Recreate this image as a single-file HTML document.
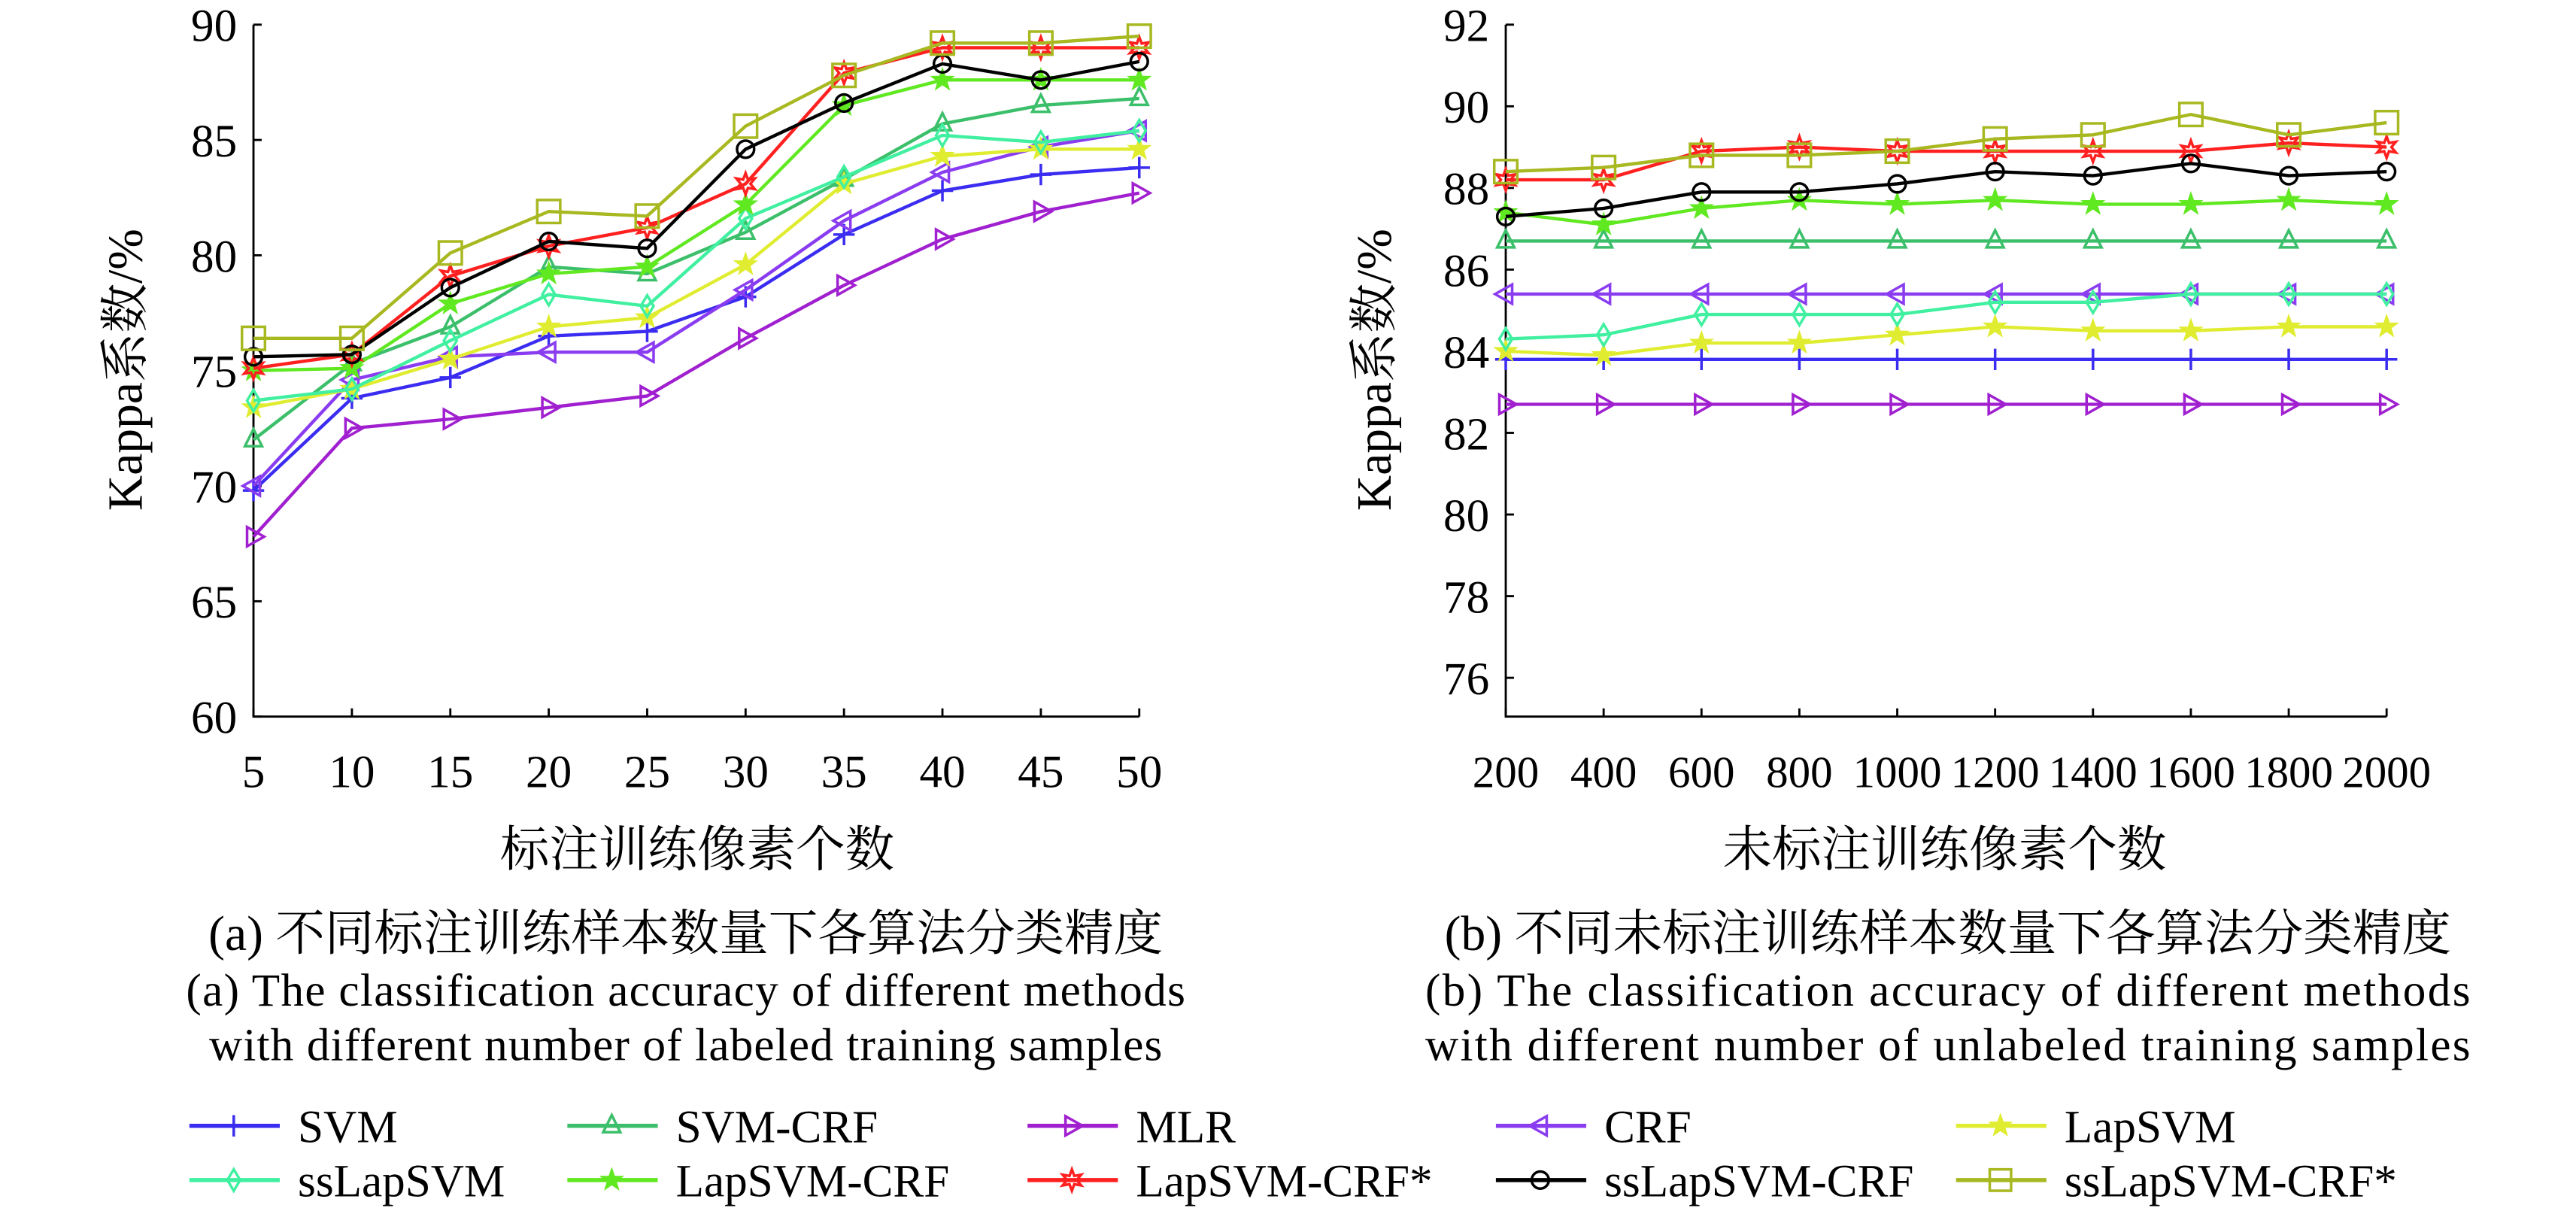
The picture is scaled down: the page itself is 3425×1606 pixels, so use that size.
<!DOCTYPE html>
<html><head><meta charset="utf-8"><style>
html,body{margin:0;padding:0;background:#fff;}
svg{display:block;}
text{font-family:"Liberation Serif","Noto Serif CJK SC",serif;fill:#000;}
</style></head><body>
<svg id="fig" width="3425" height="1606" viewBox="0 0 1567 735" xmlns="http://www.w3.org/2000/svg"></svg>
<script>
const seriesNames=["SVM","SVM-CRF","MLR","CRF","LapSVM","ssLapSVM","LapSVM-CRF","LapSVM-CRF*","ssLapSVM-CRF","ssLapSVM-CRF*"];
const seriesColors=["#3a2cf0","#3cbf6a","#a020d0","#8a3cf0","#e0ec30","#40f0a0","#60e820","#ff2020","#000000","#a8b820"];
const seriesMarkers=["plus","triUp","triRight","triLeft","star","diamond","star","hex","circle","square"];
const leftCats=[5,10,15,20,25,30,35,40,45,50];
const leftYTicks=[60,65,70,75,80,85,90];
const leftSVM=[69.8,73.8,74.7,76.5,76.7,78.2,80.9,82.8,83.5,83.8];
const leftSVMCRF=[72,75.3,76.9,79.5,79.2,81,83.3,85.7,86.5,86.8];
const leftMLR=[67.8,72.5,72.9,73.4,73.9,76.4,78.7,80.7,81.9,82.7];
const leftCRF=[70,74.6,75.6,75.8,75.8,78.5,81.5,83.6,84.7,85.4];
const leftLapSVM=[73.4,74.2,75.5,76.9,77.3,79.6,83.1,84.3,84.6,84.6];
const leftSsLapSVM=[73.7,74.2,76.3,78.3,77.8,81.6,83.4,85.2,84.9,85.4];
const leftLapSVMCRF=[75,75.1,77.9,79.2,79.5,82.2,86.5,87.6,87.6,87.6];
const leftLapSVMCRFs=[75.1,75.7,79.1,80.4,81.2,83.1,87.9,89,89,89];
const leftSsLapSVMCRF=[75.6,75.7,78.6,80.6,80.3,84.6,86.6,88.3,87.6,88.4];
const leftSsLapSVMCRFs=[76.4,76.4,80.1,81.9,81.7,85.6,87.8,89.2,89.2,89.5];
const rightCats=[200,400,600,800,1000,1200,1400,1600,1800,2000];
const rightYTicks=[76,78,80,82,84,86,88,90,92];
const rightSVM=[83.8,83.8,83.8,83.8,83.8,83.8,83.8,83.8,83.8,83.8];
const rightSVMCRF=[86.7,86.7,86.7,86.7,86.7,86.7,86.7,86.7,86.7,86.7];
const rightMLR=[82.7,82.7,82.7,82.7,82.7,82.7,82.7,82.7,82.7,82.7];
const rightCRF=[85.4,85.4,85.4,85.4,85.4,85.4,85.4,85.4,85.4,85.4];
const rightLapSVM=[84,83.9,84.2,84.2,84.4,84.6,84.5,84.5,84.6,84.6];
const rightSsLapSVM=[84.3,84.4,84.9,84.9,84.9,85.2,85.2,85.4,85.4,85.4];
const rightLapSVMCRF=[87.4,87.1,87.5,87.7,87.6,87.7,87.6,87.6,87.7,87.6];
const rightLapSVMCRFs=[88.2,88.2,88.9,89,88.9,88.9,88.9,88.9,89.1,89];
const rightSsLapSVMCRF=[87.3,87.5,87.9,87.9,88.1,88.4,88.3,88.6,88.3,88.4];
const rightSsLapSVMCRFs=[88.4,88.5,88.8,88.8,88.9,89.2,89.3,89.8,89.3,89.6];

const leftData=[leftSVM,leftSVMCRF,leftMLR,leftCRF,leftLapSVM,leftSsLapSVM,leftLapSVMCRF,leftLapSVMCRFs,leftSsLapSVMCRF,leftSsLapSVMCRFs];
const rightData=[rightSVM,rightSVMCRF,rightMLR,rightCRF,rightLapSVM,rightSsLapSVM,rightLapSVMCRF,rightLapSVMCRFs,rightSsLapSVMCRF,rightSsLapSVMCRFs];

const NS="http://www.w3.org/2000/svg";
const svg=document.getElementById('fig');
function mk(tag,attrs,parent){const e=document.createElementNS(NS,tag);for(const k in attrs)e.setAttribute(k,attrs[k]);(parent||svg).appendChild(e);return e;}

function marker(g,type,x,y,c,s){
  s=s||7;
  let e;
  const st={fill:'none',stroke:c,'stroke-width':1.6};
  if(type==='plus'){e=mk('path',Object.assign({d:`M${x-s} ${y}H${x+s}M${x} ${y-s}V${y+s}`},st),g);}
  else if(type==='triUp'){e=mk('path',Object.assign({d:`M${x} ${y-s}L${x+s*0.8} ${y+s*0.6}L${x-s*0.8} ${y+s*0.6}Z`},st),g);}
  else if(type==='triRight'){e=mk('path',Object.assign({d:`M${x+s} ${y}L${x-s*0.6} ${y-s*0.9}L${x-s*0.6} ${y+s*0.9}Z`},st),g);}
  else if(type==='triLeft'){e=mk('path',Object.assign({d:`M${x-s} ${y}L${x+s*0.6} ${y-s*0.9}L${x+s*0.6} ${y+s*0.9}Z`},st),g);}
  else if(type==='diamond'){e=mk('path',Object.assign({d:`M${x} ${y-s}L${x+s*0.6} ${y}L${x} ${y+s}L${x-s*0.6} ${y}Z`},st),g);}
  else if(type==='circle'){e=mk('circle',Object.assign({cx:x,cy:y,r:s*0.8},st),g);}
  else if(type==='square'){e=mk('rect',Object.assign({x:x-s,y:y-s,width:2*s,height:2*s},st),g);}
  else if(type==='star'){let p='';for(let i=0;i<10;i++){const a=-Math.PI/2+i*Math.PI/5;const r=i%2?s*0.4:s;p+=(i?'L':'M')+(x+r*Math.cos(a)).toFixed(2)+' '+(y+r*Math.sin(a)).toFixed(2);}e=mk('path',{d:p+'Z',fill:c,stroke:c,'stroke-width':1},g);}
  else if(type==='hex'){let p='';for(let i=0;i<12;i++){const a=-Math.PI/2+i*Math.PI/6;const r=i%2?s*0.45:s;p+=(i?'L':'M')+(x+r*Math.cos(a)).toFixed(2)+' '+(y+r*Math.sin(a)).toFixed(2);}e=mk('path',Object.assign({d:p+'Z'},st),g);}
  
  
  return e;
}

function chart(opt){
  const {x0,x1,y0,y1,ymin,ymax,cats,yticks,data,prefix,xfs}=opt;
  const g=mk('g',{});
  
  
  const xs=i=>x0+(x1-x0)*i/(cats.length-1);
  const ys=v=>y1-(y1-y0)*(v-ymin)/(ymax-ymin);
  const ax=mk('path',{d:`M${x0} ${ys(yticks[yticks.length-1])}V${y1}H${x1}`,fill:'none',stroke:'#000','stroke-width':1.3},g);
  
  
  yticks.forEach(t=>{
    const y=ys(t);
    const tk=mk('line',{x1:x0,x2:x0+5,y1:y,y2:y,stroke:'#000','stroke-width':1.3},g);
    
    
    const lb=mk('text',{x:x0-10,y:y+10,'text-anchor':'end','font-size':28},g);
    lb.textContent=t;
    
    
  });
  cats.forEach((c,i)=>{
    const x=xs(i);
    const tk=mk('line',{x1:x,x2:x,y1:y1,y2:y1-5,stroke:'#000','stroke-width':1.3},g);
    
    
    const lb=mk('text',{x:x,y:y1+43,'text-anchor':'middle','font-size':xfs},g);
    lb.textContent=c;
    
    
  });
  data.forEach((arr,si)=>{
    const sg=mk('g',{},g);
    
    
    const pl=mk('polyline',{points:arr.map((v,i)=>xs(i)+','+ys(v)).join(' '),fill:'none',stroke:seriesColors[si],'stroke-width':2},sg);
    
    
    arr.forEach((v,i)=>marker(sg,seriesMarkers[si],xs(i),ys(v),seriesColors[si],si===9?7:6.5));
  });
}

chart({x0:154,x1:693,y0:15,y1:436,ymin:60,ymax:90,cats:leftCats,yticks:leftYTicks,data:leftData,prefix:'left',xfs:28});
chart({x0:916,x1:1452,y0:15,y1:436,ymin:75.05,ymax:92,cats:rightCats,yticks:rightYTicks,data:rightData,prefix:'right',xfs:27});

function txt(x,y,s,t,name,anchor,extra){
  const e=mk('text',Object.assign({x:x,y:y,'font-size':s,'text-anchor':anchor||'middle'},extra||{}));
  e.textContent=t;
  
  
  return e;
}
txt(86,225,30,'Kappa系数/%','left-y-axis-title','middle',{transform:'rotate(-90 86 225)'});
txt(846,225,30,'Kappa系数/%','right-y-axis-title','middle',{transform:'rotate(-90 846 225)'});
txt(424,527,30,'标注训练像素个数','left-x-axis-title');
txt(1183,527,30,'未标注训练像素个数','right-x-axis-title');
txt(417,578,30,'(a) 不同标注训练样本数量下各算法分类精度','left-caption-cn');
txt(417,612,28,'(a) The classification accuracy of different methods','left-caption-en-1','middle',{textLength:608});
txt(417,645,28,'with different number of labeled training samples','left-caption-en-2','middle',{textLength:580});
txt(1185,578,30,'(b) 不同未标注训练样本数量下各算法分类精度','right-caption-cn');
txt(1185,612,28,'(b) The classification accuracy of different methods','right-caption-en-1','middle',{textLength:636});
txt(1185,645,28,'with different number of unlabeled training samples','right-caption-en-2','middle',{textLength:636});

const legX=[115,345,625,910,1190];
const legY=[685,718];
const lg=mk('g',{});


seriesNames.forEach((n,i)=>{
  const row=Math.floor(i/5),col=i%5;
  const x=legX[col],y=legY[row];
  const eg=mk('g',{},lg);
  
  
  const l=mk('line',{x1:x,x2:x+55,y1:y,y2:y,stroke:seriesColors[i],'stroke-width':2.5},eg);
  
  
  marker(eg,seriesMarkers[i],x+27,y,seriesColors[i],6.5);
  const t=mk('text',{x:x+66,y:y+10,'font-size':28},eg);
  t.textContent=n;
  
  
});
</script>
</body></html>
